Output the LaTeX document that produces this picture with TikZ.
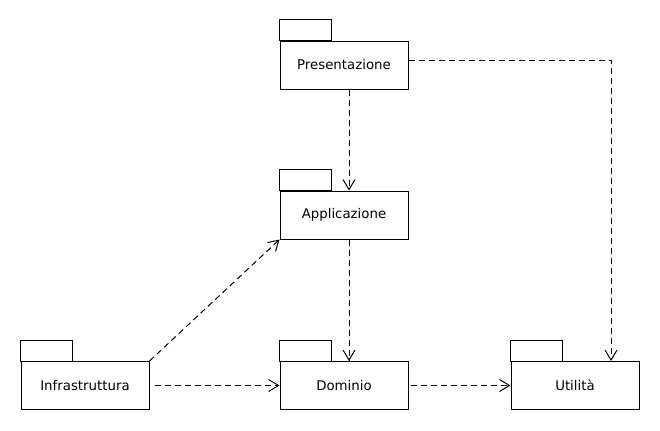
\documentclass[tikz,border=0pt]{standalone}
\usepackage{fontspec}
\setmainfont{DejaVu Sans}
\usetikzlibrary{arrows.meta}
\begin{document}
\begin{tikzpicture}[x=0.75pt,y=0.75pt,
  line width=0.75pt,
  pkg/.style={draw, rectangle, minimum width=96pt, minimum height=36pt, inner sep=0pt,
    font=\fontsize{10pt}{12pt}\selectfont,
    append after command={\pgfextra{\draw[line width=0.75pt] (\tikzlastnode.north west) rectangle ++(52,21);}}},
  dep/.style={dash pattern=on 4.5pt off 3pt, -{Straight Barb[length=7.5pt,width=9pt,line width=0.75pt]}}]
\useasboundingbox (0,0) rectangle (660,430);
\node[pkg] (P) at (344,365) {Presentazione};
\node[pkg] (A) at (344,215) {Applicazione};
\node[pkg] (I) at (85,44.5) {Infrastruttura};
\node[pkg] (D) at (344,44.5) {Dominio};
\node[pkg] (U) at (575,44.5) {Utilità};
\draw[dep] ([xshift=3.75pt]P.south) -- ([xshift=3.75pt]A.north);
\draw[dep] ([yshift=3.3pt]P.east) -| ([xshift=27pt]U.north);
\draw[dep] ([xshift=3.75pt]A.south) -- ([xshift=3.75pt]D.north);
\draw[dep] (I.north east) -- (A.south west);
\draw[dep, shorten <=3.75pt] (I.east) -- (D.west);
\draw[dep, shorten <=1.5pt] (D.east) -- (U.west);
\end{tikzpicture}
\end{document}
